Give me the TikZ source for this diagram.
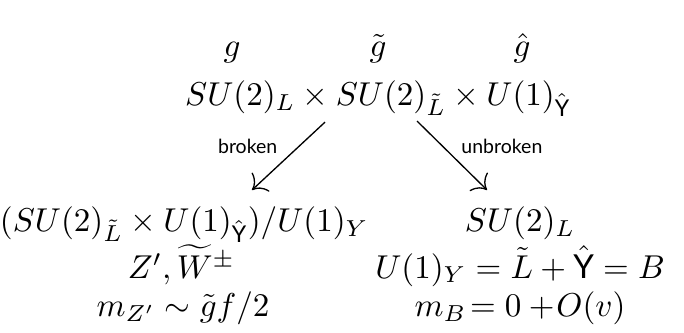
\documentclass[tikz,border=0pt]{standalone}
\usepackage{amsmath}
\usepackage{amssymb}
\usepackage{fontspec}
\usetikzlibrary{arrows.meta}
\newfontfamily\lato{Lato}
\newcommand{\Yhat}{\hat{\text{\lato Y}}}

\begin{document}
\begin{tikzpicture}[>={To[scale=1.5]},
    eq/.style={anchor=base,inner sep=0pt},
    lbl/.style={font=\lato\fontsize{5.9}{7}\selectfont,inner sep=1pt}]
    \useasboundingbox (0,0) rectangle (7.277,3.533);
    % couplings
    \node[eq] (gL) at (2.468,2.937) {$g$};
    \node[eq] (gT) at (4.022,2.937) {$\tilde{g}$};
    \node[eq] (gY) at (5.554,2.937) {$\hat{g}$};
    \node[eq] (grp) at (4.022,2.415) {$SU(2)_L \times SU(2)_{\tilde{L}} \times U(1)_{\Yhat}$};
    % broken side
    \node[eq] (brk1) at (1.960,1.069) {$(SU(2)_{\tilde{L}} \times U(1)_{\Yhat})/U(1)_Y$};
    \node[eq] (brk2) at (1.930,0.575) {$Z', \widetilde{W}^{\pm}$};
    \node[eq] (brk3) at (1.947,0.170) {$m_{Z'} \sim \tilde{g}f/2$};
    % unbroken side
    \node[eq] (unb1) at (5.533,1.069) {$SU(2)_L$};
    \node[eq] (unb2) at (5.533,0.575) {$U(1)_Y = \tilde{L} + \Yhat = B$};
    \node[eq] (unb3) at (5.533,0.170) {$m_B\!= 0 +\!O(v)$};
    \draw[->] ([xshift=-0.564cm,yshift=-0.181cm]grp.base) -- ([xshift=0.721cm,yshift=0.442cm]brk1.base)
        node[lbl,pos=0.36,left=5.3pt]{broken};
    \draw[->] ([xshift=0.415cm,yshift=-0.170cm]grp.base) -- ([xshift=-0.351cm,yshift=0.442cm]unb1.base)
        node[lbl,pos=0.37,right=4.4pt]{unbroken};

\end{tikzpicture}
\end{document}
